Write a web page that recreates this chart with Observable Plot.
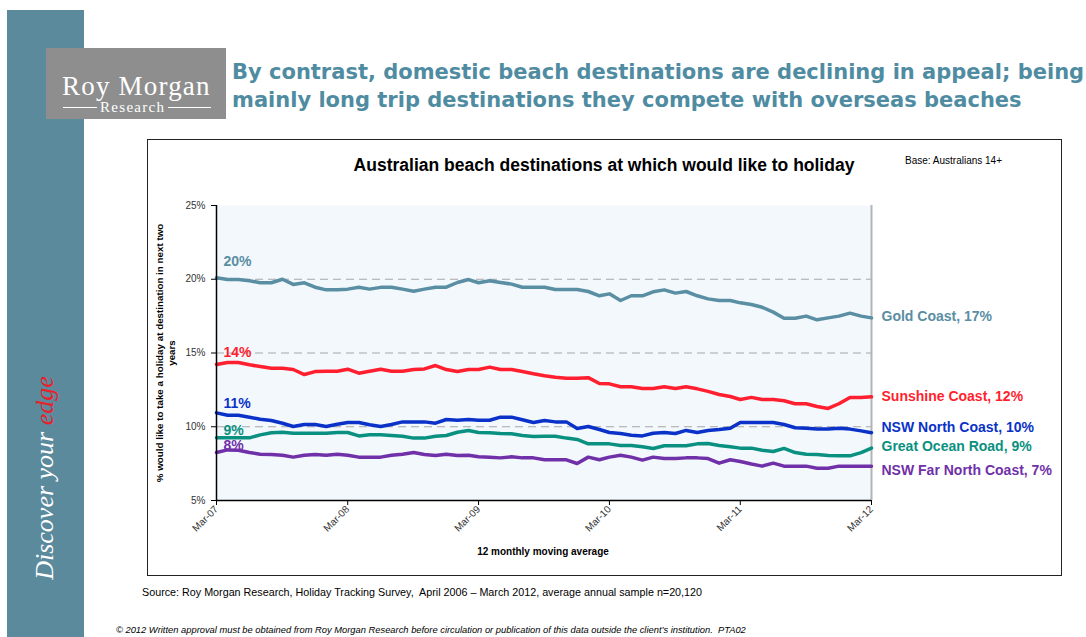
<!DOCTYPE html>
<html><head><meta charset="utf-8">
<script src="https://cdn.jsdelivr.net/npm/d3@7"></script>
<script src="https://cdn.jsdelivr.net/npm/@observablehq/plot@0.6"></script>
<style>
html,body{margin:0;padding:0;background:#fff;}
#page{position:relative;width:1086px;height:637px;overflow:hidden;font-family:"Liberation Sans",Arial,sans-serif;}
.abs{position:absolute;white-space:nowrap;}
#plot svg{position:absolute;left:0;top:0;}
</style></head><body>
<div id="page">
  <div class="abs" style="left:7px;top:10px;width:77px;height:627px;background:#5b8a9d;"></div>
  <div class="abs" id="discover" style="left:45px;top:478px;transform:translate(-50%,-50%) rotate(-90deg);font-family:'Liberation Serif',serif;font-style:italic;font-size:26px;color:#fff;">Discover your <span style="color:#e8202a">edge</span></div>
  <div class="abs" style="left:46px;top:48px;width:180px;height:71px;background:#8e8e8e;"></div>
  <div class="abs" id="logo1" style="left:62px;top:73px;font-family:'Liberation Serif',serif;font-size:27px;line-height:27px;letter-spacing:1.2px;color:#fff;">Roy Morgan</div>
  <div class="abs" style="left:63px;top:107px;width:34px;height:1px;background:#fff;"></div>
  <div class="abs" style="left:168px;top:107px;width:43px;height:1px;background:#fff;"></div>
  <div class="abs" id="logo2" style="left:100px;top:100px;font-family:'Liberation Serif',serif;font-size:15px;line-height:15px;letter-spacing:1.3px;color:#fff;">Research</div>
  <div class="abs" id="title" style="left:232px;top:58px;font-family:'DejaVu Sans',Verdana,sans-serif;font-weight:bold;font-size:21px;line-height:28px;color:#4f8ca2;"></div>
  <div class="abs" style="left:147px;top:139px;width:915px;height:437px;border:1px solid #222;box-sizing:border-box;"></div>
  <div class="abs" id="ctitle" style="left:604px;top:156px;transform:translateX(-50%);font-weight:bold;font-size:17.5px;line-height:18px;color:#000;"></div>
  <div class="abs" id="base" style="left:905px;top:155px;font-size:10px;line-height:12px;color:#000;"></div>
  <div class="abs" id="ytitle" style="left:166px;top:353px;transform:translate(-50%,-50%) rotate(-90deg);font-weight:bold;font-size:9.8px;line-height:12px;text-align:center;color:#000;"></div>
  <div class="abs" id="xtitle" style="left:543px;top:546px;transform:translateX(-50%);font-weight:bold;font-size:10px;line-height:12px;color:#000;"></div>
  <div class="abs" id="source" style="left:142px;top:585px;font-size:10.75px;line-height:14px;color:#000;"></div>
  <div class="abs" id="copy" style="left:116px;top:625px;font-size:9.35px;line-height:11px;font-style:italic;color:#000;"></div>
  <div id="plot"></div>
</div>
<script>
// ---- Data ----
const startYear = 2007, startMonth = 2; // March 2007, monthly to March 2012
const yearTickLabels = [2007, 2008, 2009, 2010, 2011, 2012];
const yTicks = [5, 10, 15, 20, 25];
const gridValues = [10, 15, 20];

const seriesNames = ["Gold Coast", "Sunshine Coast", "NSW North Coast", "Great Ocean Road", "NSW Far North Coast"];
const seriesColors = ["#5a8ea3", "#ff1f2f", "#0a32c8", "#0a9080", "#7030a8"];

const goldCoast = [20.1, 19.98, 19.98, 19.9, 19.76, 19.76, 20.0, 19.65, 19.76, 19.46,
  19.28, 19.28, 19.33, 19.46, 19.33, 19.45, 19.46, 19.33, 19.19, 19.33,
  19.46, 19.46, 19.78, 19.98, 19.76, 19.9, 19.78, 19.67, 19.46, 19.46,
  19.46, 19.3, 19.3, 19.3, 19.17, 18.88, 19.01, 18.56, 18.88, 18.88,
  19.15, 19.28, 19.06, 19.17, 18.88, 18.67, 18.56, 18.56, 18.4, 18.29,
  18.1, 17.77, 17.36, 17.36, 17.5, 17.25, 17.38, 17.5, 17.7, 17.5, 17.38];
const sunshineCoast = [14.22, 14.36, 14.36, 14.2, 14.08, 13.97, 13.97, 13.88, 13.54, 13.74,
  13.76, 13.76, 13.9, 13.63, 13.76, 13.9, 13.76, 13.76, 13.88, 13.92,
  14.15, 13.88, 13.74, 13.88, 13.88, 14.04, 13.88, 13.88, 13.74, 13.59,
  13.46, 13.36, 13.29, 13.29, 13.33, 12.93, 12.91, 12.71, 12.71, 12.59,
  12.59, 12.71, 12.59, 12.71, 12.57, 12.4, 12.19, 12.05, 11.85, 11.99,
  11.85, 11.85, 11.76, 11.56, 11.56, 11.37, 11.24, 11.56, 11.99, 11.99, 12.03];
const nswNorthCoast = [10.94, 10.78, 10.78, 10.65, 10.51, 10.42, 10.24, 10.02, 10.15, 10.15,
  10.02, 10.17, 10.29, 10.29, 10.13, 10.02, 10.15, 10.33, 10.33, 10.33,
  10.24, 10.49, 10.44, 10.49, 10.44, 10.44, 10.65, 10.65, 10.47, 10.29,
  10.42, 10.33, 10.33, 9.88, 10.02, 9.81, 9.61, 9.54, 9.43, 9.38,
  9.56, 9.61, 9.54, 9.75, 9.61, 9.74, 9.81, 9.9, 10.29, 10.29,
  10.29, 10.29, 10.15, 9.93, 9.9, 9.84, 9.84, 9.9, 9.84, 9.72, 9.59];
const greatOceanRoad = [9.25, 9.25, 9.25, 9.25, 9.45, 9.59, 9.63, 9.56, 9.56, 9.56,
  9.56, 9.61, 9.61, 9.38, 9.45, 9.45, 9.41, 9.36, 9.23, 9.23,
  9.36, 9.41, 9.63, 9.75, 9.61, 9.59, 9.54, 9.52, 9.41, 9.34,
  9.35, 9.36, 9.23, 9.14, 8.84, 8.84, 8.84, 8.73, 8.73, 8.64,
  8.53, 8.71, 8.71, 8.71, 8.84, 8.86, 8.73, 8.64, 8.55, 8.55,
  8.41, 8.32, 8.53, 8.25, 8.14, 8.12, 8.05, 8.03, 8.03, 8.25, 8.55];
const nswFarNorthCoast = [8.25, 8.43, 8.41, 8.25, 8.14, 8.12, 8.07, 7.94, 8.07, 8.12,
  8.07, 8.14, 8.07, 7.94, 7.94, 7.94, 8.07, 8.14, 8.25, 8.12,
  8.05, 8.14, 8.05, 8.07, 7.96, 7.94, 7.89, 7.96, 7.89, 7.89,
  7.76, 7.76, 7.76, 7.51, 7.94, 7.76, 7.94, 8.07, 7.94, 7.74,
  7.94, 7.85, 7.85, 7.89, 7.89, 7.84, 7.53, 7.76, 7.64, 7.47,
  7.33, 7.53, 7.33, 7.33, 7.33, 7.19, 7.19, 7.33, 7.33, 7.33, 7.33];

const titleLines = ["By contrast, domestic beach destinations are declining in appeal; being",
  "mainly long trip destinations they compete with overseas beaches"];
const chartTitle = "Australian beach destinations at which would like to holiday";
const baseText = "Base: Australians 14+";
const yTitleLines = ["% would like to take a holiday at destination in next two", "years"];
const xTitle = "12 monthly moving average";
const sourceText = "Source: Roy Morgan Research, Holiday Tracking Survey,\u00a0 April 2006 \u2013 March 2012, average annual sample n=20,120";
const copyText = "\u00a9 2012 Written approval must be obtained from Roy Morgan Research before circulation or publication of this data outside the client\u2019s institution.\u00a0 PTA02";

// ---- Text ----
document.getElementById("title").innerHTML = titleLines.join("<br>");
document.getElementById("ctitle").textContent = chartTitle;
document.getElementById("base").textContent = baseText;
document.getElementById("ytitle").innerHTML = yTitleLines.join("<br>");
document.getElementById("xtitle").textContent = xTitle;
document.getElementById("source").textContent = sourceText;
document.getElementById("copy").textContent = copyText;

// ---- Build table ----
const allValues = [goldCoast, sunshineCoast, nswNorthCoast, greatOceanRoad, nswFarNorthCoast];
const dateAt = i => new Date(Date.UTC(startYear, startMonth + i, 1));
const rows = [];
seriesNames.forEach((name, s) => {
  allValues[s].forEach((v, i) => rows.push({series: name, date: dateAt(i), value: v, i}));
});
const n = goldCoast.length;
const xStart = dateAt(0), xEnd = dateAt(n - 1);
const xTicks = yearTickLabels.map(y => new Date(Date.UTC(y, startMonth, 1)));

// label offsets (styling)
const startDy = {"Gold Coast": -16, "Sunshine Coast": -12, "NSW North Coast": -9, "Great Ocean Road": -7, "NSW Far North Coast": -7};
const endDy = {"Gold Coast": -1, "Sunshine Coast": 0, "NSW North Coast": -5, "Great Ocean Road": -2, "NSW Far North Coast": 4};

const startLabels = seriesNames.map(name => Plot.text(rows.filter(d => d.series === name && d.i === 0), {
  x: "date", y: "value", text: d => Math.round(d.value) + "%", fill: "series",
  textAnchor: "start", dx: 7, dy: startDy[name], fontSize: 14, fontWeight: "bold"
}));
const endLabels = seriesNames.map(name => Plot.text(rows.filter(d => d.series === name && d.i === n - 1), {
  x: "date", y: "value", text: d => d.series + ", " + Math.round(d.value) + "%", fill: "series",
  textAnchor: "start", dx: 10, dy: endDy[name], fontSize: 14, fontWeight: "bold"
}));

const chart = Plot.plot({
  width: 1086, height: 637,
  marginLeft: 216, marginRight: 215, marginTop: 205, marginBottom: 137,
  style: {background: "transparent", fontFamily: "'Liberation Sans', Arial, sans-serif", fontSize: "10px", overflow: "visible"},
  x: {type: "utc", domain: [xStart, xEnd]},
  y: {domain: [5, 25]},
  color: {domain: seriesNames, range: seriesColors},
  marks: [
    Plot.frame({fill: "#f3f8fd", stroke: null}),
    Plot.ruleY(gridValues, {stroke: "#a6a6a6", strokeDasharray: "8,5", strokeWidth: 1}),
    Plot.ruleX([xEnd], {stroke: "#b4b4b4", strokeWidth: 2}),
    Plot.line(rows, {x: "date", y: "value", z: "series", stroke: "series", strokeWidth: 3.5, strokeLinejoin: "round"}),
    Plot.ruleY([5], {stroke: "#000", strokeWidth: 1.5}),
    Plot.ruleX([xStart], {stroke: "#000", strokeWidth: 1.5}),
    Plot.axisX({ticks: xTicks, tickFormat: d3.utcFormat("%b-%y"), tickRotate: -45, tickSize: 5, tickPadding: 2, label: null, fill: "#333", stroke: "#000", fontSize: 10}),
    Plot.axisY({ticks: yTicks, tickFormat: d => d + "%", tickSize: 5, tickPadding: 6, label: null, fill: "#333", stroke: "#000", fontSize: 10}),
    ...startLabels,
    ...endLabels
  ]
});
document.getElementById("plot").appendChild(chart);
</script>
</body></html>
